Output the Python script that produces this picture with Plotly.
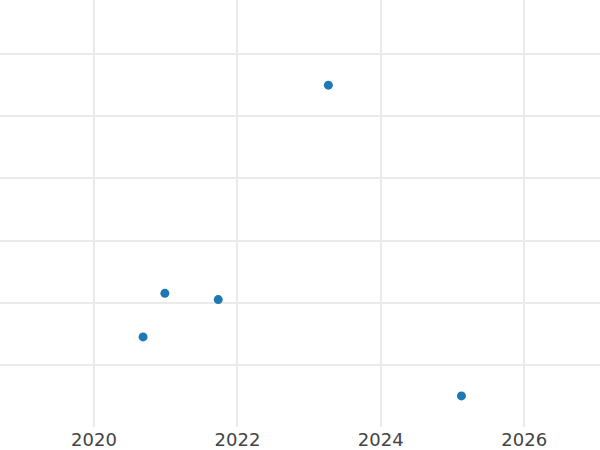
import plotly.graph_objects as go

dates = ["2020-09-07", "2020-12-27", "2021-09-25", "2023-04-09", "2025-02-15"]
values = [14.5, 21.5, 20.5, 55.0, 5.0]

fig = go.Figure()
fig.add_trace(go.Scatter(
    x=dates, y=values, mode="markers",
    marker=dict(color="#1f77b4", size=9),
    showlegend=False,
))

fig.update_layout(
    width=600, height=450,
    margin=dict(l=0, r=0, t=0, b=23),
    paper_bgcolor="white", plot_bgcolor="white",
    font=dict(family="DejaVu Sans", size=18, color="#444444"),
    xaxis=dict(
        type="date", range=["2018-09-09", "2027-01-22"],
        dtick="M24", tickformat="%Y",
        showgrid=True, gridcolor="#ebebeb", gridwidth=2,
        zeroline=False, showline=False, automargin=False,
    ),
    yaxis=dict(
        range=[0, 68.7], dtick=10,
        showgrid=True, gridcolor="#ebebeb", gridwidth=1.5,
        showticklabels=False, zeroline=False, showline=False,
        automargin=False,
    ),
)

# page body has an 8px default margin; drop it so the figure fills the window
fig.write_html(
    "out.html",
    config={"displayModeBar": False},
    post_script="document.body.style.margin = '0';",
)
